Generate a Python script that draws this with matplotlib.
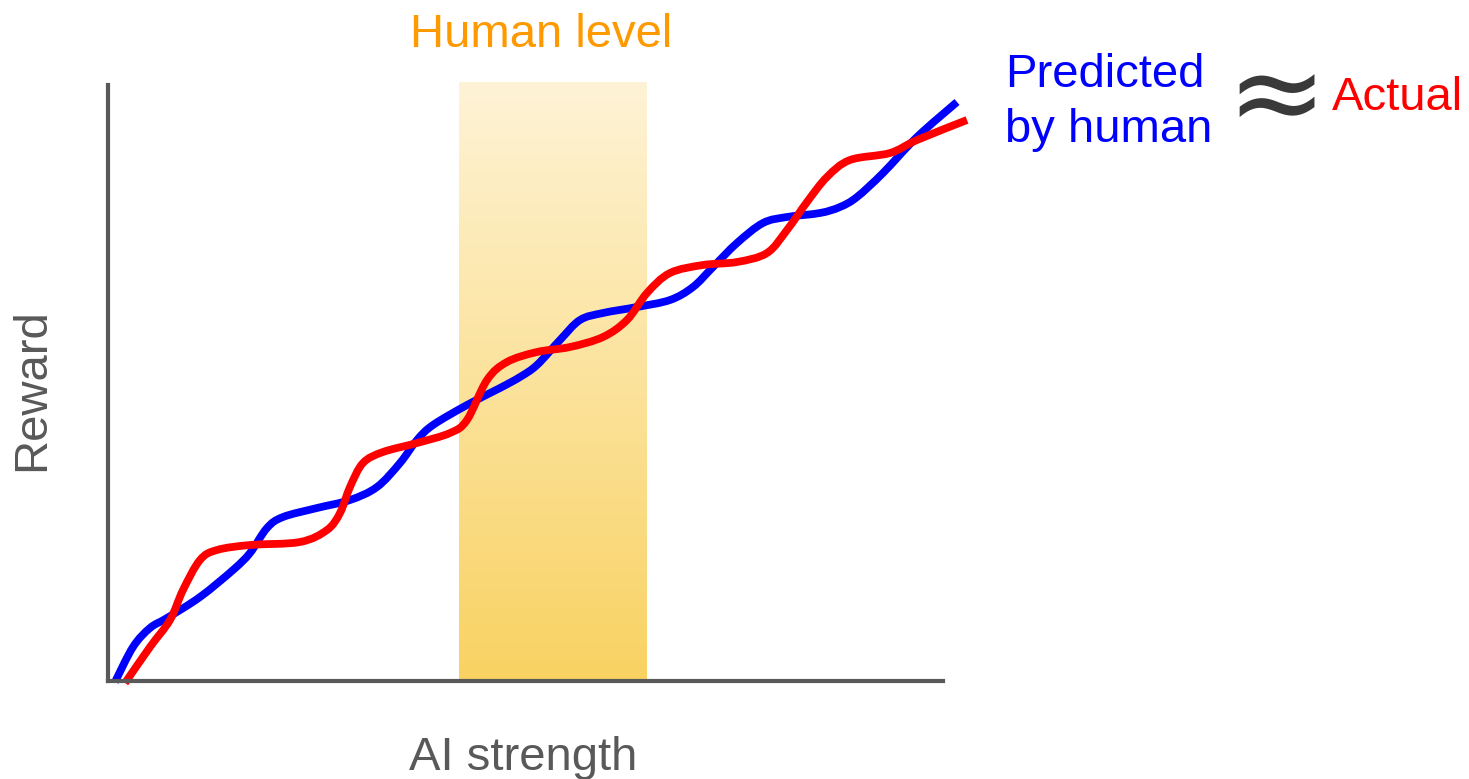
import numpy as np
import matplotlib
matplotlib.use("Agg")
import matplotlib.pyplot as plt
from matplotlib.colors import LinearSegmentedColormap
from matplotlib.path import Path
from matplotlib.patches import PathPatch

plt.rcParams['font.family'] = ['Liberation Sans', 'DejaVu Sans']

# Predicted-by-human curve (AI strength, reward)
blue_x = [7, 25, 42, 59, 92, 125, 142, 159, 175, 209, 242, 269, 292, 309, 325, 359, 392, 412, 429,
          452, 472, 495, 529, 562, 585, 605, 629, 655, 679, 712, 732, 749, 775, 809, 849]
blue_y = [-1, 34, 53, 63, 84, 111, 128, 153, 164, 173, 181, 194, 218, 241, 256, 276, 293, 304, 316,
          341, 361, 368, 374, 381, 394, 414, 438, 458, 464, 468, 474, 484, 508, 544, 579]

# Actual curve
red_x = [17, 42, 62, 75, 92, 109, 142, 192, 219, 232, 242, 255, 275, 309, 342, 359, 379, 399, 429,
         462, 495, 519, 539, 562, 595, 629, 659, 679, 699, 719, 742, 782, 809, 859]
red_y = [-2, 34, 61, 91, 121, 131, 136, 139, 151, 168, 194, 218, 229, 238, 248, 261, 301, 319, 329,
         334, 344, 361, 388, 408, 416, 419, 428, 451, 479, 504, 521, 528, 541, 561]

# Human-level band
band_x = [351, 539]
band_y = [0, 599]

W, H = 1469, 779
fig = plt.figure(figsize=(W / 100, H / 100), dpi=100)
ax = fig.add_axes([108 / W, (H - 681) / H, 835 / W, 596 / H])
ax.set_xlim(0, 835)
ax.set_ylim(0, 596)

cmap = LinearSegmentedColormap.from_list('band', ['#F9D262', '#FEF3D6'])
grad = np.linspace(0, 1, 256).reshape(-1, 1)
ax.imshow(grad, extent=[band_x[0], band_x[1], band_y[0], band_y[1]], origin='lower',
          cmap=cmap, aspect='auto', clip_on=False, zorder=1)


def smooth_curve(x, y):
    """Draw a smooth (Catmull-Rom style Bezier) path through the read points."""
    p = np.column_stack([x, y]).astype(float)
    n = len(p)
    verts = [p[0]]
    codes = [Path.MOVETO]
    for i in range(n - 1):
        p0 = p[i - 1] if i > 0 else p[i]
        p1 = p[i]
        p2 = p[i + 1]
        p3 = p[i + 2] if i + 2 < n else p[i + 1]
        verts += [p1 + (p2 - p0) / 6.0, p2 - (p3 - p1) / 6.0, p2]
        codes += [Path.CURVE4] * 3
    return Path(verts, codes)


ax.add_patch(PathPatch(smooth_curve(blue_x, blue_y), fill=False, ec='#0000FF', lw=5.6,
                       clip_on=False, zorder=3, capstyle='butt', joinstyle='round'))
ax.add_patch(PathPatch(smooth_curve(red_x, red_y), fill=False, ec='#FF0000', lw=5.6,
                       clip_on=False, zorder=4, capstyle='butt', joinstyle='round'))

for s in ['top', 'right']:
    ax.spines[s].set_visible(False)
for s in ['left', 'bottom']:
    ax.spines[s].set_color('#595959')
    ax.spines[s].set_linewidth(3)
    ax.spines[s].set_zorder(5)
ax.set_xticks([])
ax.set_yticks([])
ax.patch.set_alpha(0)


def fx(px):
    return px / W


def fy(py):
    return (H - py) / H


fs = 34
fig.text(fx(541), fy(47), 'Human level', color='#FF9900', fontsize=fs, ha='center', va='baseline')
fig.text(fx(523), fy(770), 'AI strength', color='#595959', fontsize=fs, ha='center', va='baseline')
fig.text(fx(32), fy(390), 'Reward', color='#595959', fontsize=fs, ha='center', va='center', rotation=90)
fig.text(fx(1005), fy(87), 'Predicted', color='#0000FF', fontsize=fs, ha='left', va='baseline')
fig.text(fx(1005), fy(142), 'by human', color='#0000FF', fontsize=fs, ha='left', va='baseline')
fig.text(fx(1276), fy(101), '≈', color='#3A3A3A', fontsize=86, ha='center', va='center',
         family=['DejaVu Sans'])
fig.text(fx(1332), fy(110), 'Actual', color='#FF0000', fontsize=fs, ha='left', va='baseline')

fig.savefig('out.png', dpi=100, facecolor='white')
